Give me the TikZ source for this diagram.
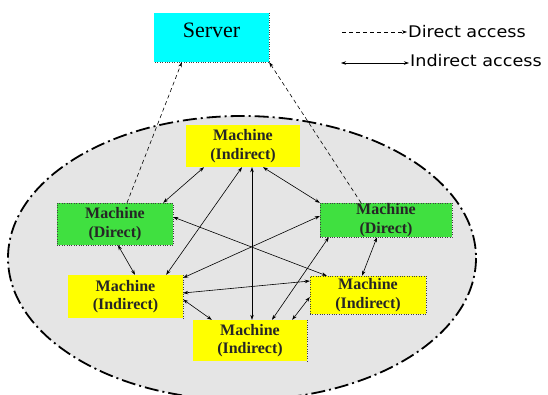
\documentclass[tikz,border=0pt]{standalone}
\usepackage{fontspec}
\setmainfont{Liberation Serif}
\newfontfamily\legendfont[FakeStretch=1.1]{DejaVu Sans}
\usetikzlibrary{arrows.meta,calc}
\definecolor{machgreen}{RGB}{64,224,64}
\definecolor{machyellow}{RGB}{255,255,0}
\definecolor{servercyan}{RGB}{0,255,255}
\definecolor{clustergray}{RGB}{229,229,229}
\begin{document}
\begin{tikzpicture}[x=1pt, y=-1pt, >={Stealth[length=5pt,width=3.5pt]}]
    \tikzstyle{machine} = [rectangle, inner sep=0pt, align=center, text=black!85,
        font=\fontsize{16}{18.5}\selectfont\bfseries]
    \tikzstyle{indirect} = [machine, fill=machyellow]
    \tikzstyle{direct} = [machine, fill=machgreen, draw=black!75, dotted]
    \tikzstyle{server} = [rectangle, fill=servercyan, inner sep=0pt, minimum width=115pt,
        text height=24pt, text depth=25pt, font=\fontsize{22}{24}\selectfont]
    \tikzstyle{legend} = [inner sep=1pt, font=\legendfont\fontsize{16}{18}\selectfont]
    \tikzstyle{access} = [line width=0.6pt, <->]
    \tikzstyle{directaccess} = [line width=0.6pt, dash pattern=on 4pt off 3pt, ->]

    \useasboundingbox (0,0) rectangle (548,394);
    \draw [fill=clustergray, line width=1.8pt, dash pattern=on 14pt off 4pt on 2pt off 4pt]
        (242,258) ellipse [x radius=234, y radius=142];

    \node [server] (server) at (211.5,37.5) {Server};
    \draw [black!75, dotted] (server.north east) -- (server.south east) -- (server.south west);

    \node [indirect, minimum width=114pt, minimum height=42pt] (mtop) at (243,146) {Machine\\(Indirect)};
    \node [direct, minimum width=116pt, minimum height=42pt] (mleft) at (115,224) {Machine\\(Direct)};
    \node [direct, minimum width=132pt, minimum height=34pt] (mright) at (386,220) {Machine\\(Direct)};
    \node [indirect, minimum width=115pt, minimum height=43pt] (mlowl) at (125.5,296.5) {Machine\\(Indirect)};
    \node [indirect, minimum width=116pt, minimum height=38pt, draw=black!75, dotted] (mlowr) at (368,295) {Machine\\(Indirect)};
    \node [indirect, minimum width=114pt, minimum height=41pt] (mbot) at (250,340.5) {Machine\\(Indirect)};
    \draw [black!75, dotted] (mlowl.north east) -- (mlowl.south east);
    \draw [black!75, dotted] (mbot.north east) -- (mbot.south east);

    % direct access to the server
    \draw [directaccess] ($(mleft.north)+(12,0)$) -- ($(server.south west)+(28,0)$);
    \draw [directaccess] ($(mright.north)+(-25,0)$) -- (server.south east);

    % indirect access between machines
    \draw [access] ($(mtop.south)+(-39,0)$) -- ($(mleft.north east)+(-10,0)$);
    \draw [access] ($(mtop.south)+(-1,0)$) -- ($(mlowl.north east)+(-17,0)$);
    \draw [access] ($(mtop.south)+(9,0)$) -- ($(mbot.north)+(2,0)$);
    \draw [access] ($(mtop.south)+(20,0)$) -- (mright.north west);
    \draw [access] ($(mleft.south)+(3,0)$) -- ($(mlowl.north)+(9.5,0)$);
    \draw [access] ($(mleft.east)+(0,-7)$) -- ($(mlowr.north west)+(17,0)$);
    \draw [access] ($(mright.west)+(0,-4)$) -- ($(mlowl.north east)+(0,3)$);
    \draw [access] ($(mright.south)+(-9,0)$) -- ($(mlowr.north)+(-6,0)$);
    \draw [access] ($(mright.south west)+(9,0)$) -- ($(mbot.north)+(22,0)$);
    \draw [access] ($(mlowl.east)+(0,-3.5)$) -- ($(mlowr.west)+(0,-14)$);
    \draw [access] ($(mlowl.east)+(0,3)$) -- ($(mbot.north west)+(19,0)$);
    \draw [access] ($(mbot.north east)+(-15,0)$) -- ($(mlowr.west)+(0,2)$);

    % legend
    \coordinate (dstart) at (342,32);
    \coordinate (istart) at (341,63);
    \node [legend, anchor=base west] (ldirect) at (407,37) {Direct access};
    \node [legend, anchor=base west] (lindirect) at (409,66) {Indirect access};
    \draw [directaccess] (dstart) -- (dstart -| ldirect.west);
    \draw [access] (istart) -- (istart -| lindirect.west);
\end{tikzpicture}
\end{document}
